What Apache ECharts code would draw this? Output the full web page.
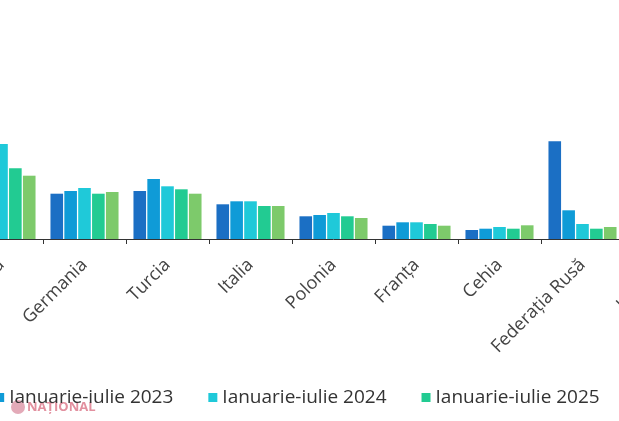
<!DOCTYPE html>
<html>
<head>
<meta charset="utf-8">
<script src="https://cdn.jsdelivr.net/npm/echarts@6/dist/echarts.min.js"></script>
<style>
	html, body { margin: 0; padding: 0; background: #fff; overflow: hidden; width: 619px; height: 421px; }
	#chart { position: absolute; left: -260px; top: 0; width: 1100px; height: 421px; }
</style>
</head>
<body>
<div id="chart"></div>
<script>
// categories (the picture is a crop: first and last groups are partly cut)
var tari = ['România', 'Germania', 'Turcia', 'Italia', 'Polonia', 'Franța', 'Cehia', 'Federația Rusă', 'Ucraina'];

var serii = ['Ianuarie-iulie 2022', 'Ianuarie-iulie 2023', 'Ianuarie-iulie 2024', 'Ianuarie-iulie 2025', 'Ianuarie-iulie 2021'];
var culori = ['#1b6fc4', '#0f9bd7', '#1fc9d9', '#22cb92', '#7dca6b'];

var v2022 = [1080, 453, 480, 347, 227, 133, 90, 977, 420];
var v2023 = [1170, 480, 600, 377, 240, 167, 103, 287, 380];
var v2024 = [950, 510, 527, 377, 260, 167, 120, 150, 330];
var v2025 = [707, 453, 497, 330, 227, 150, 103, 103, 300];
var v2021 = [633, 470, 453, 330, 210, 133, 137, 120, 290];

var valori = [v2022, v2023, v2024, v2025, v2021];

var myChart = echarts.init(document.getElementById('chart'));

var series = [];
for (var i = 0; i < serii.length; i++) {
	series.push({
		name: serii[i],
		type: 'bar',
		data: valori[i],
		barCategoryGap: '18%',
		barGap: '10%',
		itemStyle: { color: culori[i] }
	});
}

var option = {
	animation: false,
	color: culori,
	legend: {
		data: serii,
		left: 37,
		top: 383,
		icon: 'rect',
		itemWidth: 9,
		itemHeight: 9,
		itemGap: 35,
		textStyle: { fontFamily: 'Open Sans', fontSize: 19, color: '#333' }
	},
	grid: {
		left: 220,
		right: 133,
		top: 39,
		bottom: 182
	},
	xAxis: {
		type: 'category',
		data: tari,
		axisLine: { lineStyle: { color: '#333', width: 1 } },
		axisTick: { show: true, length: 5, lineStyle: { color: '#333' } },
		axisLabel: {
			interval: 0,
			rotate: 45,
			margin: 23,
			fontFamily: 'Open Sans',
			fontSize: 18,
			color: '#444'
		}
	},
	yAxis: {
		type: 'value',
		min: 0,
		max: 2000,
		show: false,
		splitLine: { show: false }
	},
	graphic: [{
		type: 'text',
		left: 287,
		top: 401,
		style: {
			text: 'NAȚIONAL',
			fill: '#e2909f',
			font: 'bold 13px Open Sans'
		}
	}, {
		type: 'circle',
		shape: { cx: 278, cy: 407, r: 7 },
		style: { fill: '#e3aab8' }
	}],
	series: series
};
myChart.setOption(option);
</script>
</body>
</html>
